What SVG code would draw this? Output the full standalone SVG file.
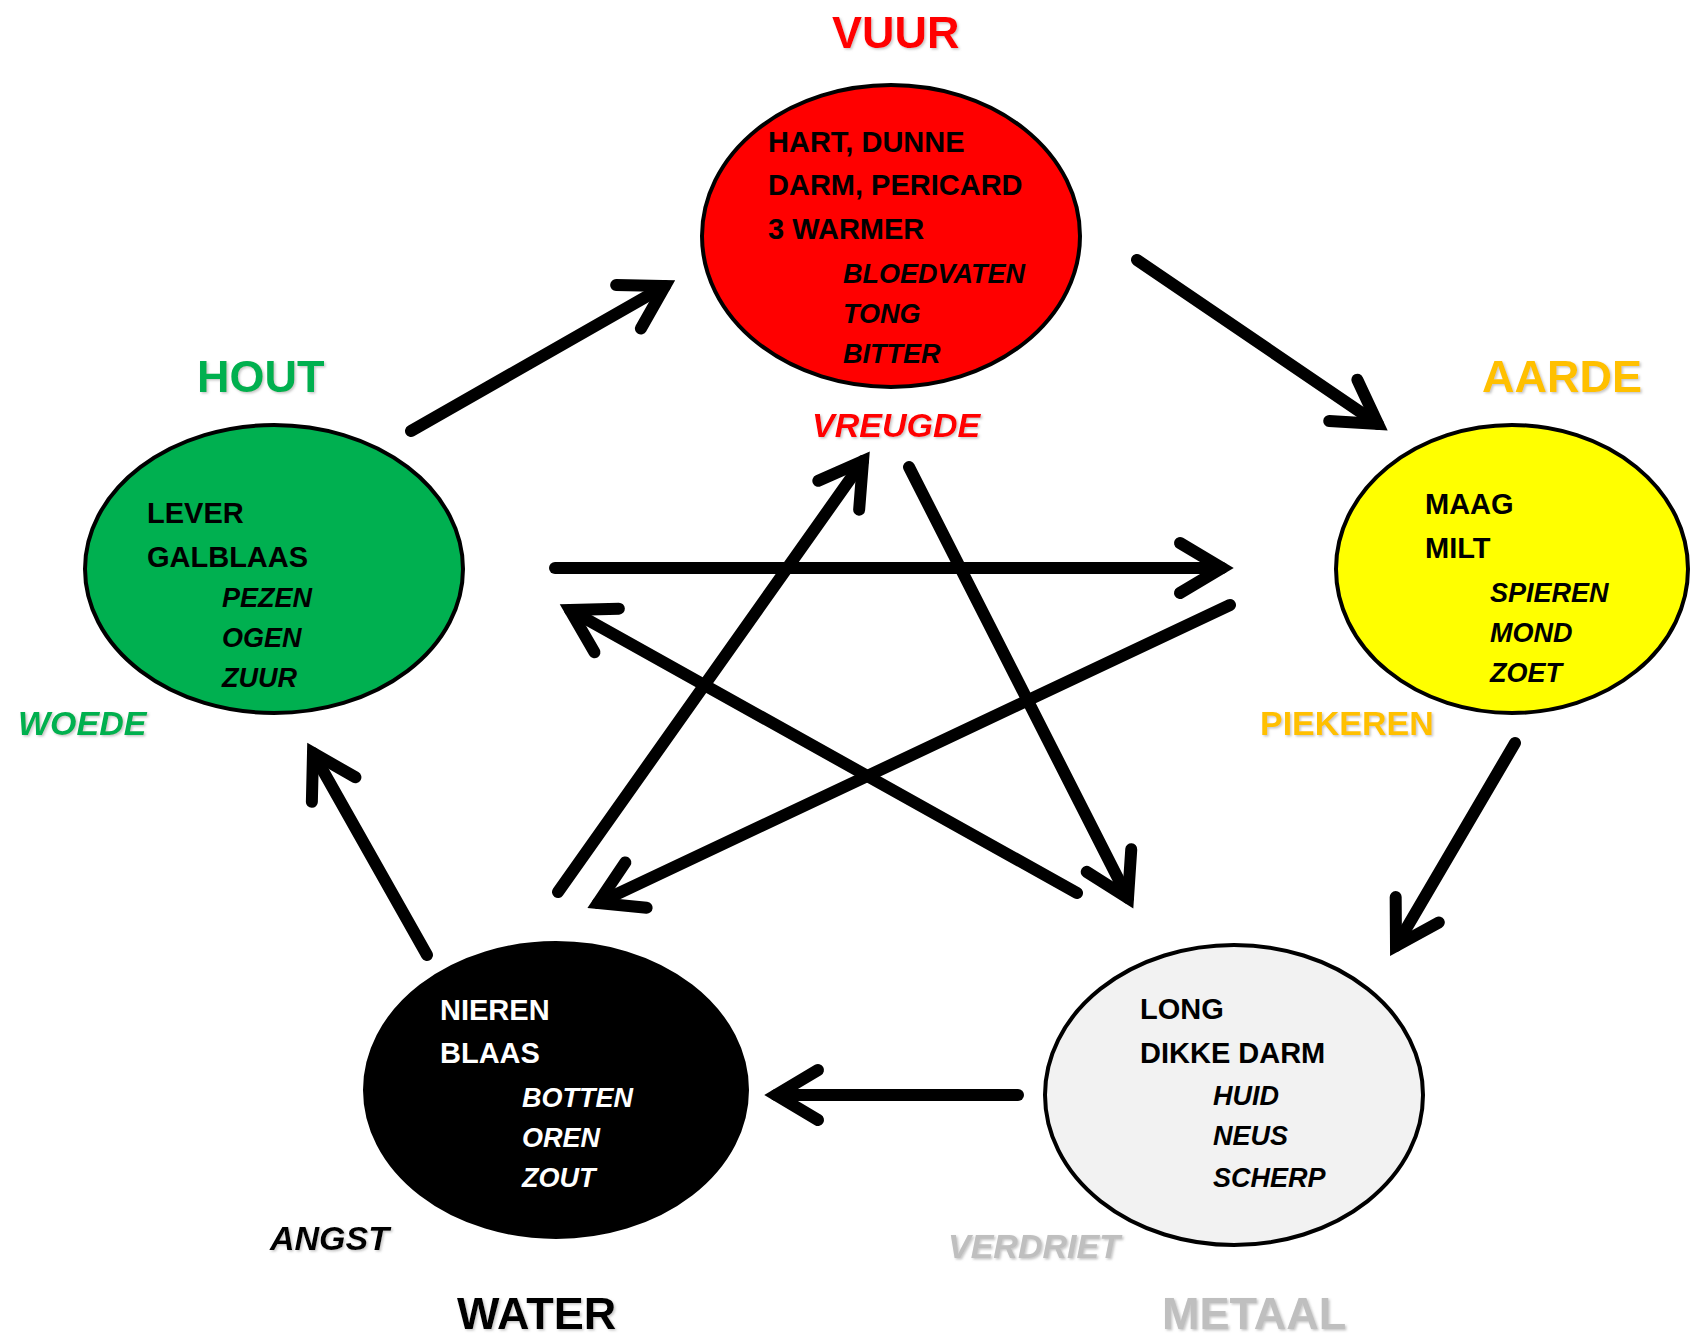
<svg xmlns="http://www.w3.org/2000/svg" width="1691" height="1340" viewBox="0 0 1691 1340">
<defs>
<style>
.bg{fill:#ffffff}
.node{stroke:#000;stroke-width:4}
.lbl{font-family:"Liberation Sans",Arial,sans-serif;font-weight:bold;font-size:29px;fill:#000}
.it{font-family:"Liberation Sans",Arial,sans-serif;font-weight:bold;font-style:italic;font-size:27px;fill:#000}
.wh{fill:#fff}
.title{font-family:"Liberation Sans",Arial,sans-serif;font-weight:bold;font-size:45px;filter:url(#sh)}
.emo{font-family:"Liberation Sans",Arial,sans-serif;font-weight:bold;font-size:34px;filter:url(#sh)}
.emoi{font-style:italic}
.con line{stroke:#000;stroke-width:12;stroke-linecap:round;fill:none;marker-end:url(#chev)}
</style>
<filter id="sh" x="-10%" y="-20%" width="130%" height="150%">
<feDropShadow dx="1.5" dy="1.5" stdDeviation="0.8" flood-color="#808080" flood-opacity="0.45"/>
</filter>
<marker id="chev" markerUnits="userSpaceOnUse" viewBox="-60 -40 80 80" markerWidth="80" markerHeight="80" refX="0" refY="0" orient="auto" overflow="visible">
<path d="M-42,-25 L0,0 L-42,25" fill="none" stroke="#000" stroke-width="12" stroke-linejoin="miter" stroke-miterlimit="10" stroke-linecap="round"/>
</marker>
</defs>
<rect class="bg" x="0" y="0" width="1691" height="1340"/>

<g id="connectors" class="con">
<line x1="411" y1="431" x2="665" y2="286"/>
<line x1="1137" y1="260" x2="1378" y2="424"/>
<line x1="1515" y1="743" x2="1396" y2="946"/>
<line x1="1018" y1="1095" x2="776" y2="1095"/>
<line x1="427" y1="955" x2="313" y2="753"/>
<line x1="555" y1="568" x2="1222" y2="568"/>
<line x1="1230" y1="605" x2="598" y2="903"/>
<line x1="558" y1="892" x2="863" y2="461"/>
<line x1="909" y1="467" x2="1128" y2="898"/>
<line x1="1077" y1="893" x2="570" y2="610"/>
</g>

<g id="vuur">
<text class="title" x="832" y="48" fill="#FF0000">VUUR</text>
<ellipse class="node" cx="891" cy="236" rx="189" ry="151" fill="#FF0000"/>
<text class="lbl" x="768" y="152">HART, DUNNE</text>
<text class="lbl" x="768" y="195">DARM, PERICARD</text>
<text class="lbl" x="768" y="239">3 WARMER</text>
<text class="it" x="843" y="283">BLOEDVATEN</text>
<text class="it" x="843" y="323">TONG</text>
<text class="it" x="843" y="363">BITTER</text>
<text class="emo emoi" x="812" y="437" fill="#FF0000">VREUGDE</text>
</g>

<g id="hout">
<text class="title" x="197" y="392" fill="#00B050">HOUT</text>
<ellipse class="node" cx="274" cy="569" rx="189" ry="144" fill="#00B050"/>
<text class="lbl" x="147" y="523">LEVER</text>
<text class="lbl" x="147" y="567">GALBLAAS</text>
<text class="it" x="222" y="607">PEZEN</text>
<text class="it" x="222" y="647">OGEN</text>
<text class="it" x="222" y="687">ZUUR</text>
<text class="emo emoi" x="18" y="735" fill="#00B050">WOEDE</text>
</g>

<g id="aarde">
<text class="title" x="1482" y="392" fill="#FFC000">AARDE</text>
<ellipse class="node" cx="1512" cy="569" rx="176" ry="144" fill="#FFFF00"/>
<text class="lbl" x="1425" y="514">MAAG</text>
<text class="lbl" x="1425" y="558">MILT</text>
<text class="it" x="1490" y="602">SPIEREN</text>
<text class="it" x="1490" y="642">MOND</text>
<text class="it" x="1490" y="682">ZOET</text>
<text class="emo" x="1260" y="735" font-size="33" fill="#FFC000">PIEKEREN</text>
</g>

<g id="water">
<ellipse class="node" cx="556" cy="1090" rx="191" ry="147" fill="#000000"/>
<text class="lbl wh" x="440" y="1020">NIEREN</text>
<text class="lbl wh" x="440" y="1063">BLAAS</text>
<text class="it wh" x="522" y="1107">BOTTEN</text>
<text class="it wh" x="522" y="1147">OREN</text>
<text class="it wh" x="522" y="1187">ZOUT</text>
<text class="emo emoi" x="270" y="1250" fill="#000000">ANGST</text>
<text class="title" x="457" y="1329" fill="#000000">WATER</text>
</g>

<g id="metaal">
<ellipse class="node" cx="1234" cy="1095" rx="189" ry="150" fill="#F2F2F2"/>
<text class="lbl" x="1140" y="1019">LONG</text>
<text class="lbl" x="1140" y="1063">DIKKE DARM</text>
<text class="it" x="1213" y="1105">HUID</text>
<text class="it" x="1213" y="1145">NEUS</text>
<text class="it" x="1213" y="1187">SCHERP</text>
<text class="emo emoi" x="948" y="1258" fill="#BFBFBF">VERDRIET</text>
<text class="title" x="1162" y="1329" fill="#BFBFBF">METAAL</text>
</g>
</svg>
